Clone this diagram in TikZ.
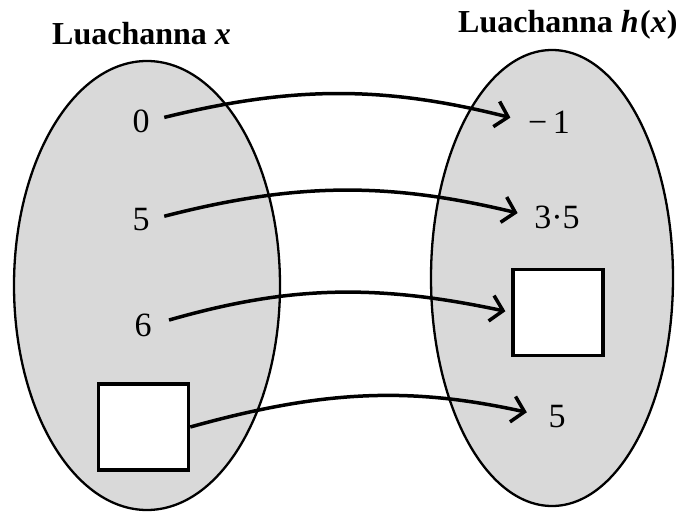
\documentclass[tikz,border=0pt]{standalone}
\usepackage{fontspec}
\setmainfont{Liberation Serif}
\usetikzlibrary{arrows.meta}
\definecolor{setgray}{HTML}{D9D9D9}
\tikzset{
  setoval/.style={draw=black, line width=2.3pt, fill=setgray},
  num/.style={inner sep=0pt, font=\fontsize{34}{38}\selectfont},
  title/.style={inner sep=0pt, anchor=base west, font=\fontsize{32}{36}\selectfont\bfseries},
  blank/.style={draw=black, line width=3.5pt, fill=white, minimum width=90pt, minimum height=86pt, inner sep=0pt},
  maparrow/.style={line width=3.5pt, -{Straight Barb[length=12pt, width=26pt, line width=3.5pt]}, bend left=14}
}
\begin{document}
\begin{tikzpicture}[x=1pt, y=-1pt]
\useasboundingbox (0,0) rectangle (677,513);
\fill[white] (0,0) rectangle (677,513);
\draw[setoval] (147,285.5) ellipse [x radius=133, y radius=224.5];
\draw[setoval] (552,278) ellipse [x radius=121, y radius=228];
\node[title] (tl) at (52,45) {Luachanna \textit{x}};
\node[title] (tr) at (458,33) {Luachanna \textit{h}\kern1.5pt(\textit{x})};
\node[num] (a0) at (141,121) {0};
\node[num] (a5) at (141,220) {5};
\node[num] (a6) at (143,325) {6};
\node[blank] (ab) at (143.5,427) {};
\node[num] (bm) at (549,122) {−\,1};
\node[num] (b35) at (557,217) {3·5};
\node[blank] (bb) at (558,312.5) {};
\node[num] (b5) at (557,417) {5};
\draw[maparrow, shorten <=15pt, shorten >=18pt] (a0.east) to (bm.west);
\draw[maparrow, shorten <=15pt, shorten >=17pt] (a5.east) to (b35.west);
\draw[maparrow, shorten <=18pt, shorten >=6pt] (a6.east) to (bb.west);
\draw[maparrow, shorten >=22pt] (ab.east) to (b5.west);
\end{tikzpicture}
\end{document}
